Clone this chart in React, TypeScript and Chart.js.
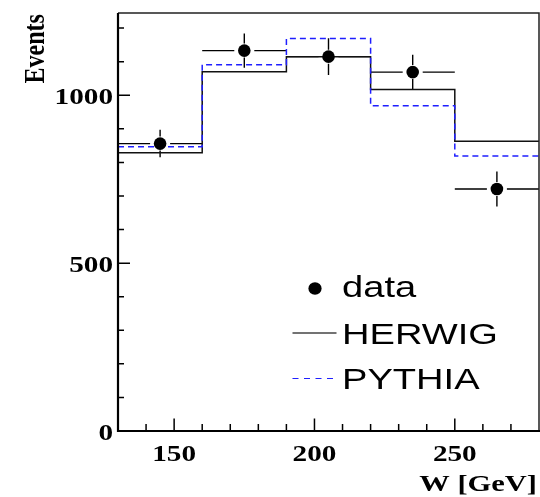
import { useEffect, useRef } from "react";
import { Chart, registerables } from "chart.js";

Chart.register(...registerables);

// Histogram binning in W [GeV]
const binEdges = [130, 160, 190, 220, 250, 280];
const binCenters = [145, 175, 205, 235, 265];

// Measured events with statistical errors
const dataEvents = [856, 1133, 1115, 1069, 721];
const dataErrors = [41, 51, 55, 52, 52];

// Monte Carlo predictions per bin
const herwigEvents = [829, 1070, 1115, 1017, 863];
const pythiaEvents = [847, 1091, 1169, 969, 819];

// Axis ticks
const xTickLabels = [150, 200, 250];
const yTickLabels = [0, 500, 1000];
const xMinorStep = 10;
const yMinorStep = 100;
const xRange = [130, 280];
const yRange = [0, 1245];

const xTitle = "W [GeV]";
const yTitle = "Events";

// ROOT-style wide glyphs
const STRETCH = 1.27;
const SERIF = '"Liberation Serif", "Times New Roman", serif';
const SANS = '"Liberation Sans", Arial, sans-serif';
const BLUE = "#1f1fff";

const stepPoints = (vals: number[]) =>
  binEdges.map((x, i) => ({ x, y: vals[Math.min(i, vals.length - 1)] }));

function stretchedText(
  ctx: CanvasRenderingContext2D,
  text: string,
  x: number,
  y: number,
  font: string,
  align: CanvasTextAlign,
  rotate = 0
) {
  ctx.save();
  ctx.translate(x, y);
  ctx.scale(STRETCH, 1);
  if (rotate) ctx.rotate(rotate);
  ctx.font = font;
  ctx.textAlign = align;
  ctx.textBaseline = "alphabetic";
  ctx.fillStyle = "#000";
  ctx.fillText(text, 0, 0);
  ctx.restore();
}

const errorBarPlugin = {
  id: "errorBars",
  beforeDatasetsDraw(chart: any) {
    const { ctx, scales } = chart;
    const xs = scales.x;
    const ys = scales.y;
    ctx.save();
    ctx.strokeStyle = "#000";
    ctx.lineWidth = 1.4;
    binCenters.forEach((c, i) => {
      const half = (binEdges[i + 1] - binEdges[i]) / 2;
      const px = xs.getPixelForValue(c);
      const py = ys.getPixelForValue(dataEvents[i]);
      const x0 = xs.getPixelForValue(c - half);
      const x1 = xs.getPixelForValue(c + half);
      const yTop = ys.getPixelForValue(dataEvents[i] + dataErrors[i]);
      const yBot = ys.getPixelForValue(dataEvents[i] - dataErrors[i]);
      const gx = 10;
      const gy = 7;
      ctx.beginPath();
      ctx.moveTo(x0, py);
      ctx.lineTo(px - gx, py);
      ctx.moveTo(px + gx, py);
      ctx.lineTo(x1, py);
      ctx.moveTo(px, yTop);
      ctx.lineTo(px, py - gy);
      ctx.moveTo(px, py + gy);
      ctx.lineTo(px, yBot);
      ctx.stroke();
    });
    ctx.restore();
  },
};

const framePlugin = {
  id: "frameAxes",
  afterDraw(chart: any) {
    const { ctx, chartArea, scales } = chart;
    const { left, right, top, bottom } = chartArea;
    const xs = scales.x;
    const ys = scales.y;
    ctx.save();

    // top and right frame
    ctx.strokeStyle = "#222";
    ctx.lineWidth = 1.5;
    ctx.beginPath();
    ctx.moveTo(left, top);
    ctx.lineTo(right, top);
    ctx.lineTo(right, bottom);
    ctx.stroke();

    // ticks pointing into the frame
    ctx.strokeStyle = "#000";
    ctx.lineWidth = 1.5;
    ctx.beginPath();
    for (let v = xRange[0] + xMinorStep; v < xRange[1]; v += xMinorStep) {
      const px = xs.getPixelForValue(v);
      const len = xTickLabels.includes(v) ? 12.5 : 7;
      ctx.moveTo(px, bottom);
      ctx.lineTo(px, bottom - len);
    }
    for (let v = yRange[0] + yMinorStep; v < yRange[1]; v += yMinorStep) {
      const py = ys.getPixelForValue(v);
      const len = yTickLabels.includes(v) ? 12 : 6;
      ctx.moveTo(left, py);
      ctx.lineTo(left + len, py);
    }
    ctx.stroke();

    // main axes
    ctx.lineWidth = 2.2;
    ctx.beginPath();
    ctx.moveTo(left, top);
    ctx.lineTo(left, bottom);
    ctx.lineTo(right + 1, bottom);
    ctx.stroke();

    // tick labels
    const tickFont = `bold 23px ${SERIF}`;
    xTickLabels.forEach((v) => {
      stretchedText(ctx, String(v), xs.getPixelForValue(v), bottom + 30, tickFont, "center");
    });
    yTickLabels.forEach((v) => {
      stretchedText(ctx, String(v), left - 5, ys.getPixelForValue(v) + 9, tickFont, "right");
    });

    // axis titles
    stretchedText(ctx, xTitle, 537, 491, `bold 24px ${SERIF}`, "right");
    stretchedText(ctx, yTitle, 43.5, 83.5, `bold 24px ${SERIF}`, "left", -Math.PI / 2);

    // legend
    const ds = chart.data.datasets;
    const legendFont = `30px ${SANS}`;
    const lx0 = 292.5;
    const lx1 = 336.5;
    const tx = 342;

    ctx.fillStyle = "#000";
    ctx.beginPath();
    ctx.ellipse(315, 288.5, 6.6, 6.2, 0, 0, Math.PI * 2);
    ctx.fill();
    stretchedText(ctx, ds[2].label, tx, 297, legendFont, "left");

    ctx.strokeStyle = "#444";
    ctx.lineWidth = 1.3;
    ctx.beginPath();
    ctx.moveTo(lx0, 333);
    ctx.lineTo(lx1, 333);
    ctx.stroke();
    stretchedText(ctx, ds[0].label, tx, 343.5, legendFont, "left");

    ctx.strokeStyle = BLUE;
    ctx.lineWidth = 1.2;
    ctx.setLineDash([6, 5.5]);
    ctx.beginPath();
    ctx.moveTo(lx0, 378.5);
    ctx.lineTo(lx1, 378.5);
    ctx.stroke();
    ctx.setLineDash([]);
    stretchedText(ctx, ds[1].label, tx, 389, legendFont, "left");

    ctx.restore();
  },
};

export default function App() {
  const canvasRef = useRef<HTMLCanvasElement | null>(null);

  useEffect(() => {
    document.body.style.margin = "0";
    const canvas = canvasRef.current;
    if (!canvas) return;
    const chart = new Chart(canvas, {
      type: "scatter",
      data: {
        datasets: [
          {
            label: "HERWIG",
            data: stepPoints(herwigEvents),
            showLine: true,
            stepped: "before",
            borderColor: "#111",
            borderWidth: 1.5,
            pointRadius: 0,
            fill: false,
            order: 3,
          },
          {
            label: "PYTHIA",
            data: stepPoints(pythiaEvents),
            showLine: true,
            stepped: "before",
            borderColor: BLUE,
            borderWidth: 1.5,
            borderDash: [6, 4],
            pointRadius: 0,
            fill: false,
            order: 2,
          },
          {
            label: "data",
            data: binCenters.map((x, i) => ({ x, y: dataEvents[i] })),
            showLine: false,
            pointRadius: 6.3,
            pointBackgroundColor: "#000",
            pointBorderWidth: 0,
            order: 1,
          },
        ],
      } as any,
      options: {
        animation: false,
        responsive: false,
        maintainAspectRatio: false,
        layout: { autoPadding: false, padding: { left: 118, top: 13, right: 1, bottom: 66 } },
        scales: {
          x: { type: "linear", min: xRange[0], max: xRange[1], display: false },
          y: { type: "linear", min: yRange[0], max: yRange[1], display: false },
        },
        plugins: {
          legend: { display: false },
          tooltip: { enabled: false },
        },
      } as any,
      plugins: [errorBarPlugin, framePlugin],
    });
    return () => chart.destroy();
  }, []);

  return (
    <div style={{ width: 540, height: 497, background: "#fff" }}>
      <canvas ref={canvasRef} width={540} height={497} style={{ display: "block" }} />
    </div>
  );
}
